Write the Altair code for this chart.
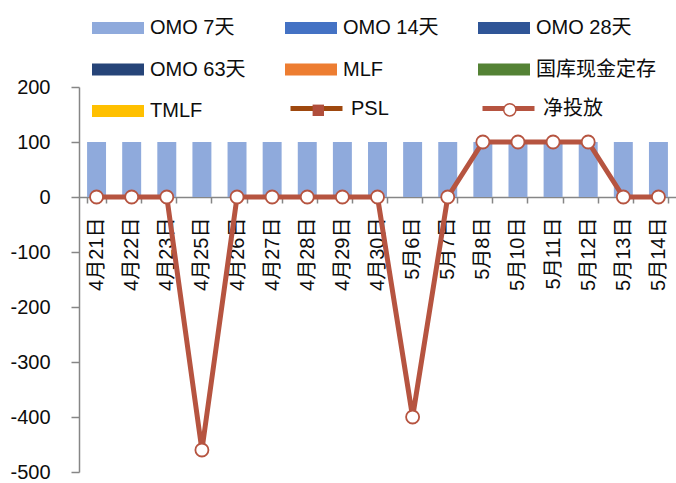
import altair as alt
import pandas as pd
import numpy as np

dates = ["4月21日", "4月22日", "4月23日", "4月25日", "4月26日", "4月27日", "4月28日",
         "4月29日", "4月30日", "5月6日", "5月7日", "5月8日", "5月10日", "5月11日",
         "5月12日", "5月13日", "5月14日"]
omo7 = [100, 100, 100, 100, 100, 100, 100, 100, 100, 100, 100, 100, 100, 100, 100, 100, 100]
net = [0, 0, 0, -460, 0, 0, 0, 0, 0, -400, 0, 100, 100, 100, 100, 0, 0]

bar_series = ["OMO 7天", "OMO 14天", "OMO 28天", "OMO 63天", "MLF", "国库现金定存", "TMLF"]
bar_colors = ["#8FAADC", "#4472C4", "#2F5597", "#264478", "#ED7D31", "#548235", "#FFC000"]
psl_name = "PSL"
net_name = "净投放"
psl_line_color = "#9E480E"
psl_marker_color = "#B04E3B"
net_color = "#B65440"
y_ticks = [-500, -400, -300, -200, -100, 0, 100, 200]

FONT = "Liberation Sans, Noto Sans CJK SC"
TXT = "#0D0D0D"
AX = "#868686"

bar_df = pd.DataFrame({"date": dates, "value": omo7, "type": bar_series[0]})
net_df = pd.DataFrame({"date": dates, "value": net, "series": net_name, "marker": net_name + " "})
psl_df = pd.DataFrame({"date": [dates[0]], "value": [np.nan], "series": [psl_name],
                       "marker": [psl_name + " "]})

xscale = alt.Scale(domain=dates, paddingInner=0.46, paddingOuter=0.23)
yscale = alt.Scale(domain=[-500, 200], nice=False, zero=False)

x_enc = alt.X("date:N", scale=xscale, title=None,
              axis=alt.Axis(orient="bottom", offset=-275, labelAngle=-90, tickBand="extent",
                            tickSize=6, labelPadding=14, labelFontSize=20, labelColor=TXT,
                            labelFont=FONT, domainColor=AX, tickColor=AX, domainWidth=1.5,
                            tickWidth=1.5, grid=False))
y_enc = alt.Y("value:Q", scale=yscale, title=None,
              axis=alt.Axis(values=y_ticks, tickSize=8, labelPadding=21, labelFontSize=20,
                            labelColor=TXT, labelFont=FONT, domainColor=AX, tickColor=AX,
                            domainWidth=1.5, tickWidth=1.5, grid=False,
                            labelExpr="datum.value < 0 ? '-' + abs(datum.value) : '' + datum.value"))
x_plain = alt.X("date:N", scale=xscale)
y_plain = alt.Y("value:Q", scale=yscale)

common = dict(orient="none", labelFontSize=20, labelOffset=6, labelColor=TXT,
              labelFont=FONT, padding=0, labelLimit=300)

legA = alt.Legend(legendX=13, legendY=-85, columns=3, direction="horizontal",
                  columnPadding=39, rowPadding=5.5,
                  symbolType="M-1,-0.23L1,-0.23L1,0.23L-1,0.23Z",
                  symbolSize=2704, symbolStrokeWidth=0, **common)
leg_psl_line = alt.Legend(legendX=209, legendY=-7, symbolType="stroke", symbolSize=2704,
                          symbolStrokeWidth=5, symbolStrokeColor=psl_line_color,
                          zindex=1, **common)
leg_psl_marker = alt.Legend(legendX=229.3, legendY=13.3, symbolSize=130,
                            symbolFillColor=psl_marker_color, symbolStrokeWidth=0,
                            labelExpr="''", zindex=2, **common)
leg_net_line = alt.Legend(legendX=401, legendY=-7, symbolType="stroke", symbolSize=2704,
                          symbolStrokeWidth=5, zindex=1, **common)
leg_net_marker = alt.Legend(legendX=420.8, legendY=12.8, symbolType="circle", symbolSize=150,
                            symbolStrokeColor=net_color, symbolStrokeWidth=1.5,
                            labelExpr="''", zindex=2, **common)

bars = alt.Chart(bar_df).mark_bar().encode(
    x=x_enc, y=y_enc,
    color=alt.Color("type:N", title=None,
                    scale=alt.Scale(domain=bar_series, range=bar_colors), legend=legA),
)

psl_line = alt.Chart(psl_df).mark_line(strokeWidth=5, color=psl_line_color).encode(
    x=x_plain, y=y_plain,
    strokeDash=alt.StrokeDash("series:N", title=None,
                              scale=alt.Scale(domain=[psl_name], range=[[1, 0]]),
                              legend=leg_psl_line),
)

psl_pts = alt.Chart(psl_df).mark_point(filled=True, size=121, color=psl_marker_color,
                                       opacity=1).encode(
    x=x_plain, y=y_plain,
    shape=alt.Shape("marker:N", title=None,
                    scale=alt.Scale(domain=[psl_name + " "], range=["square"]),
                    legend=leg_psl_marker),
)

net_line = alt.Chart(net_df).mark_line(strokeWidth=5, strokeJoin="round").encode(
    x=x_plain, y=y_plain,
    stroke=alt.Stroke("series:N", title=None,
                      scale=alt.Scale(domain=[net_name], range=[net_color]),
                      legend=leg_net_line),
)

net_pts = alt.Chart(net_df).mark_point(filled=True, size=170, stroke=net_color,
                                       strokeWidth=1.8, opacity=1).encode(
    x=x_plain, y=y_plain,
    fill=alt.Fill("marker:N", title=None,
                  scale=alt.Scale(domain=[net_name + " "], range=["#FFFFFF"]),
                  legend=leg_net_marker),
)

chart = alt.layer(bars, psl_line, psl_pts, net_line, net_pts).properties(
    width=597, height=385,
    autosize=alt.AutoSizeParams(type="none"),
    padding={"left": 79, "top": 87, "right": 0, "bottom": 11},
).configure(font=FONT).configure_view(stroke=None)

chart.save("out.html", embed_options={"renderer": "svg", "actions": False})
